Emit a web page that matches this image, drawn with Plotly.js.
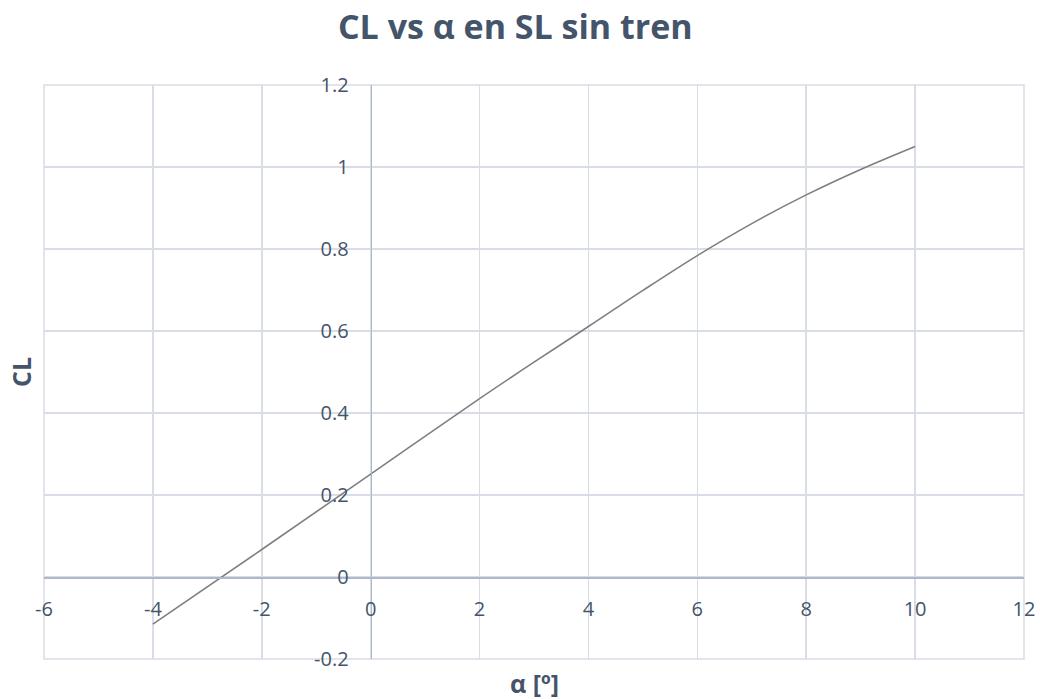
<!DOCTYPE html>
<html>
<head>
<meta charset="utf-8">
<script src="https://cdn.plot.ly/plotly-3.0.1.min.js"></script>
<style>html,body{margin:0;padding:0;background:#fff;}#chart{width:1040px;height:699px;}</style>
</head>
<body>
<div id="chart"></div>
<script>
// Data
const alphaDeg = [-4, -2, 0, 2, 3, 4, 5, 6, 7, 8, 9, 10];
const clValues = [-0.115, 0.067, 0.251, 0.435, 0.524, 0.611, 0.699, 0.784, 0.862, 0.932, 0.994, 1.05];
const xTicks = [-6, -4, -2, 0, 2, 4, 6, 8, 10, 12];
const yTicks = [-0.2, 0, 0.2, 0.4, 0.6, 0.8, 1, 1.2];
const yTickLabels = ['-0.2', '0', '0.2', '0.4', '0.6', '0.8', '1', '1.2'];

const textColor = '#44546A';
const gridColor = '#D9DEE6';
const axisColor = '#ADB9CA';
const fontFam = '"Open Sans", Lato, sans-serif';

const xRange = [-6, 12];
const yRange = [-0.2, 1.2];

const trace = {
  x: alphaDeg,
  y: clValues,
  type: 'scatter',
  mode: 'lines',
  line: {color: '#7F7F7F', width: 1.6, shape: 'spline', smoothing: 1},
  hoverinfo: 'x+y'
};

const mT = 85, mB = 40, mL = 44, mR = 16;
const plotH = 699 - mT - mB;
const plotW = 1040 - mL - mR;

const layout = {
  width: 1040,
  height: 699,
  margin: {l: mL, r: mR, t: mT, b: mB},
  paper_bgcolor: '#ffffff',
  plot_bgcolor: '#ffffff',
  showlegend: false,
  font: {family: fontFam, color: textColor, size: 20},
  title: {
    text: '<b>CL vs α en SL sin tren</b>',
    font: {family: fontFam, size: 34, color: textColor},
    x: 0.4955, xref: 'container', xanchor: 'center',
    y: 0.961, yref: 'container', yanchor: 'middle'
  },
  xaxis: {
    range: xRange,
    tickvals: xTicks,
    ticktext: xTicks.map(String),
    showgrid: true, gridcolor: gridColor, gridwidth: 1.5,
    zeroline: false,
    showline: true, linecolor: axisColor, linewidth: 1.5,
    anchor: 'free',
    position: (0 - yRange[0]) / (yRange[1] - yRange[0]),
    ticks: '',
    ticklabelstandoff: 13,
    tickfont: {family: fontFam, size: 20, color: textColor},
    fixedrange: true
  },
  yaxis: {
    range: yRange,
    tickvals: yTicks,
    ticktext: yTickLabels,
    showgrid: true, gridcolor: gridColor, gridwidth: 1.5,
    zeroline: false,
    showline: true, linecolor: axisColor, linewidth: 1.5,
    anchor: 'free',
    position: (0 - xRange[0]) / (xRange[1] - xRange[0]),
    ticks: '',
    ticklabelstandoff: 18,
    tickfont: {family: fontFam, size: 20, color: textColor},
    fixedrange: true
  },
  shapes: [
    {
      type: 'rect', xref: 'paper', yref: 'paper', x0: 0, x1: 1, y0: 0, y1: 1,
      line: {color: gridColor, width: 1.5}, layer: 'below'
    }
  ],
  annotations: [
    {
      text: '<b>α [º]</b>', xref: 'paper', yref: 'paper',
      x: 0.5, y: (659 - 683) / plotH, xanchor: 'center', yanchor: 'middle',
      showarrow: false, font: {family: fontFam, size: 25, color: textColor}
    },
    {
      text: '<b>CL</b>', xref: 'paper', yref: 'paper',
      x: (21 - mL) / plotW, y: 0.5, xanchor: 'center', yanchor: 'middle',
      textangle: -90,
      showarrow: false, font: {family: fontFam, size: 25, color: textColor}
    }
  ]
};

Plotly.newPlot('chart', [trace], layout, {displayModeBar: false, staticPlot: true});
</script>
</body>
</html>
